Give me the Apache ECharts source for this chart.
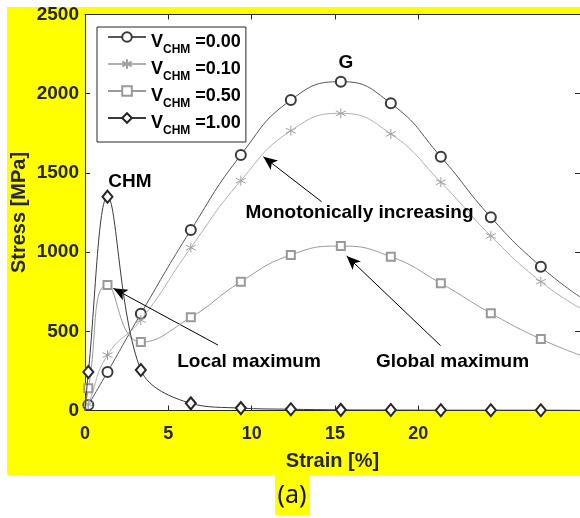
<!DOCTYPE html>
<html>
<head>
<meta charset="utf-8">
<script src="https://cdn.jsdelivr.net/npm/echarts@6/dist/echarts.min.js"></script>
<style>
  html, body { margin: 0; padding: 0; background: #fff; }
  #chart { width: 580px; height: 518px; }
</style>
</head>
<body>
<div id="chart"></div>
<script>
// Sampled strain positions [%] (curves start at the origin and run to the frame edge)
const strain = [0, 0.2, 1.35, 3.35, 6.35, 9.35, 12.35, 15.35, 18.35, 21.35, 24.35, 27.35, 29.7];

// Stress [MPa] for each CHM volume fraction
const stressV000 = [0, 35, 243, 611, 1139, 1613, 1960, 2076, 1939, 1602, 1220, 908, 717];
const stressV010 = [0, 40, 350, 571, 1028, 1451, 1766, 1876, 1746, 1441, 1102, 813, 647];
const stressV050 = [0, 140, 792, 432, 588, 813, 982, 1038, 971, 803, 614, 451, 350];
const stressV100 = [0, 243, 1350, 256, 45, 15, 8, 4, 3, 2, 2, 2, 1];

const vchmValues = ['0.00', '0.10', '0.50', '1.00'];
const strainTicks = [0, 5, 10, 15, 20];
const strainTopTicks = [5, 10, 15, 20];

const FONT = 'Liberation Sans, Arial, sans-serif';
const INK = '#262626';

const chart = echarts.init(document.getElementById('chart'), null, { renderer: 'canvas' });

function seriesData(values) {
  const last = strain.length - 1;
  return strain.map((x, i) => {
    const item = { value: [x, values[i]] };
    if (i === 0 || i === last) item.symbol = 'none';
    return item;
  });
}

const STAR = 'path://M0,-5L0,5M-4.33,-2.5L4.33,2.5M-4.33,2.5L4.33,-2.5';

function lineSeries(idx, values, lineColor, markColor, symbol, size, smooth) {
  return {
    type: 'line',
    name: 'V_CHM =' + vchmValues[idx],
    data: seriesData(values),
    smooth: smooth,
    symbol: symbol,
    symbolSize: size,
    showAllSymbol: true,
    lineStyle: { color: lineColor, width: 1 },
    itemStyle: { color: markColor, borderColor: markColor, borderWidth: 1 },
    emphasis: { disabled: true },
    z: 3 + idx
  };
}

const s0 = lineSeries(0, stressV000, '#555555', '#3a3a3a', 'emptyCircle', 10, 0.5);
const s1 = lineSeries(1, stressV010, '#b0b0b0', '#a0a0a0', STAR, 10, 0.5);
const s2 = lineSeries(2, stressV050, '#9a9a9a', '#999999', 'emptyRect', 8, 0.5);
const s3 = lineSeries(3, stressV100, '#3a3a3a', '#262626', 'emptyDiamond', [10, 12], 0.35);

const annoLabel = {
  show: true,
  position: 'inside',
  fontFamily: FONT,
  fontWeight: 'bold',
  fontSize: 19,
  color: '#000',
  formatter: p => p.name
};

// Annotation texts and arrows
s3.markPoint = {
  symbol: 'circle',
  symbolSize: 1,
  silent: true,
  itemStyle: { color: 'rgba(0,0,0,0)' },
  label: annoLabel,
  data: [
    { name: 'CHM', coord: [2.7, 1443] },
    { name: 'G', coord: [15.66, 2194] },
    { name: 'Monotonically increasing', coord: [16.47, 1250] },
    { name: 'Local maximum', coord: [9.84, 309] },
    { name: 'Global maximum', coord: [22.05, 309] }
  ]
};
s3.markLine = {
  silent: true,
  symbol: ['none', 'arrow'],
  symbolSize: [9, 14],
  label: { show: false },
  lineStyle: { color: '#000', width: 1, type: 'solid' },
  emphasis: { disabled: true },
  data: [
    [{ coord: [14.2, 1318] }, { coord: [10.7, 1602] }],
    [{ coord: [7.98, 413] }, { coord: [1.7, 771] }],
    [{ coord: [21.34, 409] }, { coord: [15.7, 975] }]
  ]
};

const option = {
  animation: false,
  backgroundColor: '#ffffff',
  textStyle: { fontFamily: FONT },
  graphic: [
    { type: 'rect', z: -10, silent: true, shape: { x: 7, y: 7, width: 573, height: 468 }, style: { fill: '#ffff00' } },
    { type: 'rect', z: -10, silent: true, shape: { x: 275, y: 475, width: 35, height: 40 }, style: { fill: '#ffff00' } },
    { type: 'text', z: 10, silent: true, x: 292, y: 496,
      style: { text: '(a)', fontFamily: 'Noto Sans, sans-serif', fontSize: 25, fill: '#111', align: 'center', verticalAlign: 'middle' } }
  ],
  grid: {
    left: 85, right: 0, top: 14.5, bottom: 107.5,
    containLabel: false, outerBoundsMode: 'none',
    show: true, backgroundColor: '#ffffff', borderWidth: 0
  },
  legend: {
    left: 97, top: 27, orient: 'vertical',
    backgroundColor: '#ffffff', borderColor: INK, borderWidth: 1,
    padding: [0, 5, 4, 10],
    itemWidth: 38, itemHeight: 12, itemGap: -3,
    selectedMode: false,
    formatter: name => '{v|V}{s|CHM}{v| =' + name.split('=')[1] + '}',
    textStyle: {
      color: '#000',
      rich: {
        v: { fontFamily: FONT, fontWeight: 'bold', fontSize: 18, lineHeight: 20, padding: [6, 0, 6, 0], verticalAlign: 'top', color: '#000' },
        s: { fontFamily: FONT, fontWeight: 'bold', fontSize: 12, lineHeight: 14, padding: [17, 0, 0, 0], verticalAlign: 'top', color: '#000' }
      }
    }
  },
  xAxis: [
    {
      type: 'value', position: 'bottom', min: 0, max: 29.7, interval: 5,
      name: 'Strain [%]', nameLocation: 'middle', nameGap: 41, nameMoveOverlap: false,
      nameTextStyle: { fontFamily: FONT, fontWeight: 'bold', fontSize: 20, color: INK },
      axisLine: { show: true, onZero: false, lineStyle: { color: INK, width: 1 } },
      axisTick: { show: true, inside: true, length: 5, customValues: strainTicks, lineStyle: { color: INK } },
      axisLabel: { customValues: strainTicks, fontFamily: FONT, fontWeight: 'bold', fontSize: 18, color: INK, margin: 15,
                   formatter: v => String(v) },
      splitLine: { show: false }
    },
    {
      type: 'value', position: 'top', min: 0, max: 29.7,
      axisLine: { show: true, onZero: false, lineStyle: { color: INK, width: 1 } },
      axisTick: { show: true, inside: true, length: 5, customValues: strainTopTicks, lineStyle: { color: INK } },
      axisLabel: { show: false },
      splitLine: { show: false }
    }
  ],
  yAxis: [
    {
      type: 'value', position: 'left', min: 0, max: 2500, interval: 500,
      name: 'Stress [MPa]', nameLocation: 'middle', nameGap: 56, nameRotate: 90, nameMoveOverlap: false,
      nameTextStyle: { fontFamily: FONT, fontWeight: 'bold', fontSize: 20, color: INK },
      axisLine: { show: true, onZero: false, lineStyle: { color: INK, width: 1 } },
      axisTick: { show: true, inside: true, length: 5, lineStyle: { color: INK } },
      axisLabel: { fontFamily: FONT, fontWeight: 'bold', fontSize: 19, color: INK, margin: 6,
                   formatter: v => String(v) },
      splitLine: { show: false }
    },
    {
      type: 'value', position: 'right', min: 0, max: 2500, interval: 500,
      axisLine: { show: true, onZero: false, lineStyle: { color: INK, width: 1 } },
      axisTick: { show: true, inside: true, length: 5, lineStyle: { color: INK } },
      axisLabel: { show: false },
      splitLine: { show: false }
    }
  ],
  series: [s0, s1, s2, s3]
};

chart.setOption(option);
</script>
</body>
</html>
